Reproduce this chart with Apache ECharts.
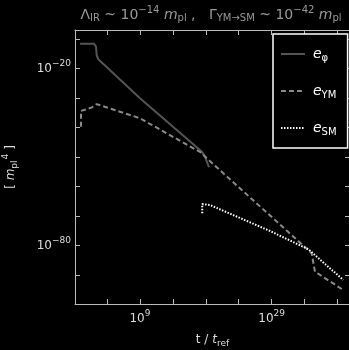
<!DOCTYPE html>
<html>
<head>
    <meta charset="UTF-8"/>
    <script type="text/javascript" src="https://cdn.jsdelivr.net/npm/echarts@6.0.0/dist/echarts.min.js"></script>
    <title>energy densities</title>
    <style>
        html, body { margin: 0; padding: 0; background: #000; }
        #main { width: 349px; height: 350px; }
    </style>
</head>
<body>
<div id="main"></div>
<script>
    // everything in log10 units: x = log10(t / t_ref), y = log10(e / m_pl^4)
    var phiX = [-0.1, 2.0, 2.32, 2.42, 2.67, 9.0, 18.37, 18.87, 19.48];
    var phiY = [-11.5, -11.5, -12.5, -15.4, -16.8, -30.0, -48.1, -49.8, -53.4];

    var ymX = [0.04, 0.04, 0.8, 1.71, 2.42, 9.0, 17.61, 18.37, 18.87, 34.56, 35.07, 35.58, 39.87];
    var ymY = [-39.7, -34.3, -33.8, -33.1, -32.0, -36.8, -47.6, -48.5, -49.8, -81.5, -82.6, -88.8, -95.0];

    var smX = [18.46, 18.46, 18.72, 19.63, 28.74, 34.56, 39.87];
    var smY = [-69.0, -65.9, -65.6, -66.2, -75.0, -81.2, -91.6];

    var xTicks = [4, 9, 14, 19, 24, 29, 34, 39];
    var xLabels = [9, 29];
    var yTicks = [-10, -20, -30, -40, -50, -60, -70, -80, -90];
    var yLabels = [-20, -80];

    var seriesNames = ['e_phi', 'e_YM', 'e_SM'];
    var legendText = {
        'e_phi': '{e|e}{s|φ}',
        'e_YM': '{e|e}{s|YM}',
        'e_SM': '{e|e}{s|SM}'
    };

    var FONT = 'DejaVu Sans';
    var AXIS_COLOR = '#bbb';
    var TEXT_COLOR = '#ddd';

    function pairs(xs, ys) {
        var out = [];
        for (var i = 0; i < xs.length; i++) out.push([xs[i], ys[i]]);
        return out;
    }

    function powLabel(v) {
        var n = Math.round(v);
        var s = n < 0 ? '−' + (-n) : '' + n;
        return '{b|10}{s|' + s + '}';
    }

    var labelRich = {
        b: { fontFamily: FONT, fontSize: 12, color: TEXT_COLOR },
        s: { fontFamily: FONT, fontSize: 9, color: TEXT_COLOR, padding: [0, 0, 10, 0] }
    };

    function xAxisDef(pos, labels) {
        return {
            type: 'value', position: pos, min: -0.87, max: 40.9,
            axisLine: { show: true, onZero: false, lineStyle: { color: AXIS_COLOR, width: 1 } },
            axisTick: { show: true, inside: true, length: 5, customValues: xTicks, lineStyle: { color: AXIS_COLOR } },
            axisLabel: labels ? { show: true, customValues: xLabels, formatter: powLabel, rich: labelRich, margin: 5 } : { show: false },
            splitLine: { show: false }
        };
    }
    function yAxisDef(pos, labels) {
        return {
            type: 'value', position: pos, min: -99.76, max: -6.88,
            axisLine: { show: true, onZero: false, lineStyle: { color: AXIS_COLOR, width: 1 } },
            axisTick: { show: true, inside: true, length: 5, customValues: yTicks, lineStyle: { color: AXIS_COLOR } },
            axisLabel: labels ? { show: true, customValues: yLabels, formatter: powLabel, rich: labelRich, margin: 4 } : { show: false },
            splitLine: { show: false }
        };
    }

    var xBottom = xAxisDef('bottom', true);
    xBottom.name = '{n|t / }{i|t}{sub|ref}';
    xBottom.nameLocation = 'middle';
    xBottom.nameGap = 28;
    xBottom.nameTextStyle = {
        rich: {
            n: { fontFamily: FONT, fontSize: 12, color: TEXT_COLOR },
            i: { fontFamily: FONT, fontSize: 12, fontStyle: 'italic', color: TEXT_COLOR },
            sub: { fontFamily: FONT, fontSize: 9, color: TEXT_COLOR, padding: [7, 0, 0, 0] }
        }
    };

    var yLeft = yAxisDef('left', true);
    yLeft.name = '{n|[ }{i|m}{sub|pl}{sup|4}{n| ]}';
    yLeft.nameLocation = 'middle';
    yLeft.nameGap = 54;
    yLeft.nameTextStyle = {
        rich: {
            n: { fontFamily: FONT, fontSize: 12, color: TEXT_COLOR },
            i: { fontFamily: FONT, fontSize: 12, fontStyle: 'italic', color: TEXT_COLOR },
            sub: { fontFamily: FONT, fontSize: 9, color: TEXT_COLOR, padding: [7, 0, 0, 0] },
            sup: { fontFamily: FONT, fontSize: 9, color: TEXT_COLOR, padding: [0, 0, 11, 1] }
        }
    };

    var titleRich = {
        n: { fontFamily: FONT, fontSize: 14, fill: '#999' },
        i: { fontFamily: FONT, fontSize: 14, fontStyle: 'italic', fill: '#999' },
        sub: { fontFamily: FONT, fontSize: 10, fill: '#999', padding: [7, 0, 0, 0] },
        sup: { fontFamily: FONT, fontSize: 10, fill: '#999', padding: [0, 0, 10, 0] }
    };
    var titleText = '{n|Λ}{sub|IR}{n| ~ 10}{sup|−14}{i| m}{sub|pl}{n| ,   Γ}{sub|YM→SM}{n| ~ 10}{sup|−42}{i| m}{sub|pl}';

    var chart = echarts.init(document.getElementById('main'));
    chart.setOption({
        backgroundColor: '#000',
        animation: false,
        grid: { left: 75, top: 30, width: 275, height: 274, containLabel: false, outerBoundsMode: 'none' },
        xAxis: [xBottom, xAxisDef('top', false)],
        yAxis: [yLeft, yAxisDef('right', false)],
        legend: {
            orient: 'vertical', left: 273, top: 34,
            data: seriesNames,
            padding: [13, 11, 11, 7],
            itemGap: 21, itemWidth: 24, itemHeight: 14,
            borderColor: '#fff', borderWidth: 1.5, borderRadius: 0,
            backgroundColor: '#000',
            itemStyle: { opacity: 0 },
            formatter: function (name) { return legendText[name]; },
            textStyle: {
                color: '#fff',
                rich: {
                    e: { fontFamily: FONT, fontSize: 14, fontStyle: 'italic', color: '#fff', padding: [0, 0, 0, 3] },
                    s: { fontFamily: FONT, fontSize: 10, color: '#fff', padding: [8, 0, 0, 0] }
                }
            }
        },
        graphic: [{
            type: 'text', x: 211, y: 15,
            style: { text: titleText, rich: titleRich, align: 'center', verticalAlign: 'middle', fill: '#999', fontFamily: FONT, fontSize: 14 }
        }],
        series: [
            {
                name: 'e_phi', type: 'line', symbol: 'none', data: pairs(phiX, phiY),
                lineStyle: { color: '#555', width: 2, type: 'solid' }, itemStyle: { color: '#555' }
            },
            {
                name: 'e_YM', type: 'line', symbol: 'none', data: pairs(ymX, ymY),
                lineStyle: { color: '#8a8a8a', width: 2, type: [5, 3] }, itemStyle: { color: '#8a8a8a' }
            },
            {
                name: 'e_SM', type: 'line', symbol: 'none', data: pairs(smX, smY),
                lineStyle: { color: '#fff', width: 2, type: [1.5, 1.5] }, itemStyle: { color: '#fff' }
            }
        ]
    });
</script>
</body>
</html>
